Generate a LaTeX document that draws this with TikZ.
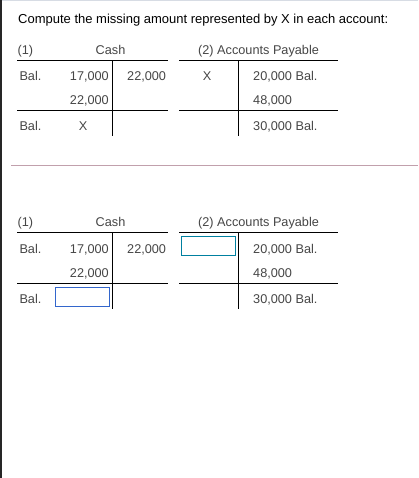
\documentclass[tikz,border=0pt]{standalone}
\usepackage{fontspec}
\setmainfont{Liberation Sans}
\definecolor{txtgray}{RGB}{70,70,70}
\definecolor{sepline}{RGB}{193,160,172}
\definecolor{topline}{RGB}{215,220,228}
\definecolor{tealbox}{RGB}{0,128,160}
\definecolor{bluebox}{RGB}{51,102,204}
\begin{document}
\begin{tikzpicture}[x=1pt,y=-1pt,
    cell/.style={inner sep=0pt,text=txtgray,font=\fontsize{12.7}{15}\selectfont},
    rule/.style={line width=1pt},
    ansbox/.style={draw=#1,line width=0.9pt,minimum width=54.5pt,minimum height=19pt,inner sep=0pt}]
  \useasboundingbox (0,0) rectangle (418,478);
  \fill[white] (0,0) rectangle (418,478);
  \draw[topline] (0,0.5) -- (418,0.5);
  \draw[line width=1.5pt,black!85] (0.75,0) -- (0.75,478);
  \node[anchor=base west,inner sep=0pt,font=\fontsize{13}{15}\selectfont] (title) at (18,24)
    {Compute the missing amount represented by X in each account:};
  \draw[sepline,line width=0.9pt] (11,165.3) -- (418,165.3);
  \foreach \oy/\t in {0/a,172/b} {
    \node[cell,anchor=base west] (one-\t) at (17.5,54.3+\oy) {(1)};
    \node[cell,anchor=base] (cash-\t) at (110.5,54.3+\oy) {Cash};
    \node[cell,anchor=base west] (ap-\t) at (198,54.3+\oy) {(2) Accounts Payable};
    \draw[rule] (17,60.5+\oy) -- (168,60.5+\oy) (179,60.5+\oy) -- (338,60.5+\oy);
    \draw[rule] (17,111+\oy) -- (168,111+\oy) (179,111+\oy) -- (338,111+\oy);
    \draw[rule] (112,60.5+\oy) -- (112,136.5+\oy);
    \draw[rule] (238,60.5+\oy) -- (238,136.5+\oy);
    \node[cell,anchor=base west] (bal1-\t) at (19.3,81+\oy) {Bal.};
    \node[cell,anchor=base east] (dr1-\t) at (109,81+\oy) {17,000};
    \node[cell,anchor=base west] (cr1-\t) at (127,81+\oy) {22,000};
    \node[cell,anchor=base west] (apbal-\t) at (253,81+\oy) {20,000 Bal.};
    \node[cell,anchor=base east] (dr2-\t) at (109,105+\oy) {22,000};
    \node[cell,anchor=base west] (apcr-\t) at (253,105+\oy) {48,000};
    \node[cell,anchor=base west] (bal3-\t) at (19.3,131+\oy) {Bal.};
    \node[cell,anchor=base west] (apend-\t) at (253,131+\oy) {30,000 Bal.};
  }
  \node[cell,anchor=base] (apx) at (207,81) {X};
  \node[cell,anchor=base] (cashx) at (83,131) {X};
  \node[ansbox=tealbox] (apin) at (208.4,245.7) {};
  \node[ansbox=bluebox] (cashin) at (82.3,296.8) {};
\end{tikzpicture}
\end{document}
